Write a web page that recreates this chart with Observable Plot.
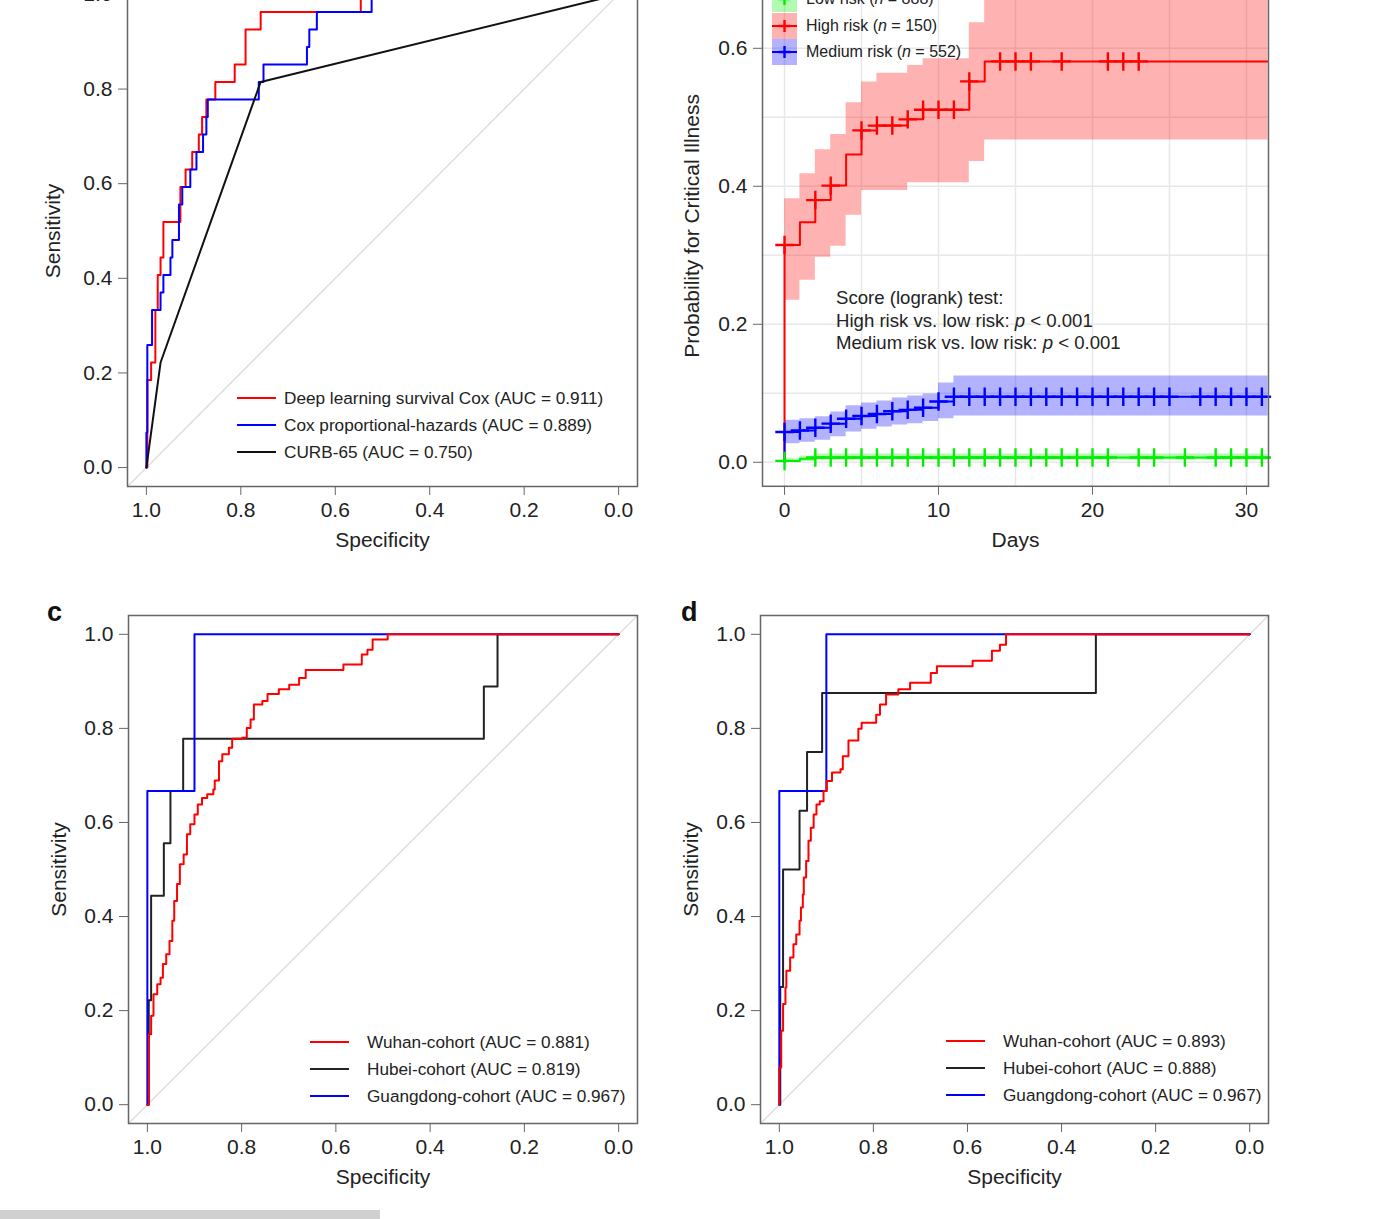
<!DOCTYPE html>
<html><head><meta charset="utf-8">
<script src="https://cdn.jsdelivr.net/npm/d3@7"></script>
<script src="https://cdn.jsdelivr.net/npm/@observablehq/plot@0.6"></script>
<style>
body{margin:0;background:#fff;}
#page{position:relative;width:1400px;height:1219px;overflow:hidden;background:#fff;font-family:"Liberation Sans",Arial,Helvetica,sans-serif;color:#222;}
.abs{position:absolute;white-space:nowrap;}
.lrow{position:absolute;left:0;display:flex;align-items:center;height:27px;font-size:17.2px;}
.lline{height:2px;}
.tag{position:absolute;font-weight:bold;font-size:27px;color:#111;}
</style></head>
<body><div id="page"></div>
<script>
// ---------------- Panel a: training ROC ----------------
const aRedSpec  = [1.0,0.998,0.990,0.981,0.976,0.970,0.964,0.928,0.917,0.903,0.889,0.882,0.873,0.854,0.813,0.790,0.758,0.546,0.0];
const aRedSens  = [0,0.185,0.222,0.333,0.407,0.444,0.519,0.593,0.630,0.667,0.704,0.741,0.778,0.815,0.852,0.926,0.963,1.0,1.0];
const aBlueSpec = [1.0,1.0,0.998,0.988,0.970,0.964,0.949,0.945,0.931,0.924,0.907,0.894,0.880,0.873,0.870,0.762,0.752,0.660,0.655,0.639,0.523,0.0];
const aBlueSens = [0,0.074,0.259,0.333,0.370,0.407,0.444,0.481,0.556,0.593,0.630,0.667,0.704,0.741,0.778,0.815,0.852,0.889,0.926,0.963,1.0,1.0];
const aBlackSpec = [1.0,0.970,0.758,0.0];
const aBlackSens = [0,0.222,0.815,1.0];
const aLegend = ["Deep learning survival Cox (AUC = 0.911)","Cox proportional-hazards (AUC = 0.889)","CURB-65 (AUC = 0.750)"];

// ---------------- Panel c: external ROC ----------------
const cRedSpec = [1.0,0.997,0.992,0.987,0.979,0.972,0.967,0.960,0.953,0.947,0.943,0.937,0.931,0.923,0.916,0.909,0.900,0.893,0.884,0.873,0.860,0.857,0.848,0.841,0.827,0.820,0.799,0.789,0.781,0.774,0.756,0.745,0.721,0.699,0.678,0.664,0.584,0.545,0.533,0.522,0.490,0.0];
const cRedSens = [0,0.150,0.189,0.235,0.256,0.270,0.299,0.320,0.348,0.391,0.433,0.469,0.511,0.532,0.575,0.596,0.617,0.638,0.652,0.660,0.670,0.689,0.730,0.745,0.759,0.778,0.780,0.801,0.819,0.851,0.858,0.873,0.883,0.893,0.907,0.924,0.936,0.957,0.967,0.989,1.0,1.0];
const cBlackSpec = [1.0,0.997,0.992,0.965,0.951,0.924,0.286,0.257,0.0];
const cBlackSens = [0,0.222,0.444,0.556,0.667,0.778,0.889,1.0,1.0];
const cBlueSpec = [1.0,1.0,0.900,0.0];
const cBlueSens = [0,0.667,1.0,1.0];
const cLegend = ["Wuhan-cohort (AUC = 0.881)","Hubei-cohort (AUC = 0.819)","Guangdong-cohort (AUC = 0.967)"];

// ---------------- Panel d: external ROC ----------------
const dRedSpec = [1.0,1.0,0.996,0.992,0.987,0.985,0.977,0.970,0.964,0.957,0.954,0.950,0.948,0.943,0.938,0.933,0.927,0.921,0.914,0.906,0.899,0.888,0.870,0.865,0.853,0.832,0.825,0.794,0.786,0.773,0.747,0.722,0.678,0.665,0.589,0.548,0.531,0.518,0.0];
const dRedSens = [0,0.079,0.157,0.214,0.249,0.285,0.313,0.341,0.362,0.391,0.419,0.447,0.483,0.518,0.561,0.589,0.617,0.638,0.645,0.667,0.688,0.706,0.713,0.741,0.774,0.799,0.812,0.829,0.851,0.872,0.883,0.897,0.918,0.932,0.944,0.965,0.978,1.0,1.0];
const dBlackSpec = [1.0,0.998,0.992,0.957,0.941,0.909,0.327,0.0];
const dBlackSens = [0,0.25,0.5,0.625,0.75,0.875,1.0,1.0];
const dBlueSpec = [1.0,1.0,0.900,0.0];
const dBlueSens = [0,0.667,1.0,1.0];
const dLegend = ["Wuhan-cohort (AUC = 0.893)","Hubei-cohort (AUC = 0.888)","Guangdong-cohort (AUC = 0.967)"];

const rocTicks = [1.0,0.8,0.6,0.4,0.2,0.0];
const sensTicks = [0.0,0.2,0.4,0.6,0.8,1.0];

// ---------------- Panel b: cumulative incidence ----------------
const highT  = [0,0,1,2,3,4,5,6,8,9,12,13,31.4];
const highP  = [0,0.315,0.348,0.380,0.401,0.446,0.481,0.488,0.497,0.511,0.552,0.581,0.581];
const highCiT  = [0,1,2,3,4,5,6,8,9,12,13,31.4];
const highCiLo = [0.235,0.264,0.297,0.313,0.358,0.394,0.394,0.405,0.405,0.436,0.467,0.467];
const highCiHi = [0.382,0.418,0.453,0.475,0.521,0.551,0.564,0.575,0.585,0.637,0.69,0.69];
const highCens = [0,2,3,5,6,7,8,9,10,11,12,14,15,16,18,21,22,23];

const medT  = [0,0,1,2,3,4,5,6,7,8,9,10,11,31.4];
const medP  = [0,0.044,0.046,0.050,0.056,0.063,0.067,0.070,0.074,0.076,0.079,0.088,0.095,0.095];
const medCiT  = [0,1,2,3,4,5,6,7,8,9,10,11,31.4];
const medCiLo = [0.027,0.029,0.032,0.037,0.044,0.048,0.051,0.054,0.056,0.059,0.063,0.067,0.067];
const medCiHi = [0.061,0.063,0.066,0.073,0.082,0.086,0.089,0.093,0.096,0.099,0.115,0.125,0.125];
const medCens = [0,1,2,3,4,5,6,7,8,9,10,11,12,13,14,15,16,17,18,19,20,21,22,23,24,25,27,28,29,30,31];

const lowT  = [0,0,1,2,31.4];
const lowP  = [0,0.002,0.005,0.007,0.007];
const lowCiT  = [0,1,2,31.4];
const lowCiLo = [0.0,0.001,0.003,0.003];
const lowCiHi = [0.005,0.009,0.012,0.012];
const lowCens = [0,2,3,4,5,6,7,8,9,10,11,12,13,14,15,16,17,18,19,20,21,23,24,26,28,29,30,31];

const dayTicks = [0,10,20,30];
const dayGrid = [0,5,10,15,20,25,30];
const probTicks = [0.0,0.2,0.4,0.6];
const probGrid = [0.0,0.1,0.2,0.3,0.4,0.5,0.6,0.7];
const bLegend = ["Low risk (<i>n</i> = 888)","High risk (<i>n</i> = 150)","Medium risk (<i>n</i> = 552)"];
const scoreText = ["Score (logrank) test:","High risk vs. low risk: <i>p</i> &lt; 0.001","Medium risk vs. low risk: <i>p</i> &lt; 0.001"];

// ---------------- helpers ----------------
const page = document.getElementById("page");
const FONT = "Liberation Sans, Arial, Helvetica, sans-serif";
const AX = 21;
const zip = (xs, ys, kx, ky) => xs.map((x, i) => ({[kx]: x, [ky]: ys[i]}));
const stepAt = (T, P, t) => { let v = P[0]; T.forEach((ti, i) => { if (ti <= t) v = P[i]; }); return v; };
const fmt1 = d3.format(".1f");

function place(opts, L, T, R, B) {
  const mL = 110, mR = 20, mT = 10, mB = 80;
  const svg = Plot.plot({
    ...opts,
    width: mL + (R - L) + mR, height: mT + (B - T) + mB,
    marginLeft: mL, marginRight: mR, marginTop: mT, marginBottom: mB,
    style: {fontFamily: FONT, color: "#222", background: "transparent", overflow: "visible"}
  });
  svg.style.position = "absolute";
  svg.style.left = (L - mL) + "px";
  svg.style.top = (T - mT) + "px";
  page.appendChild(svg);
}

function axisMarks(xt, yt, xfmt, xlab, ylab, ylabDx) {
  return [
    Plot.frame({stroke: "#666", strokeWidth: 1.5}),
    Plot.axisX({ticks: xt, tickFormat: xfmt, tickSize: 9, tickPadding: 7, fontSize: AX, stroke: "#666", fill: "#222", label: null}),
    Plot.axisY({ticks: yt, tickFormat: fmt1, tickSize: 9, tickPadding: 6, fontSize: AX, stroke: "#666", fill: "#222", label: null}),
    Plot.text([xlab], {frameAnchor: "bottom", dy: 54, fontSize: AX, fill: "#222", textAnchor: "middle", lineAnchor: "middle"}),
    Plot.text([ylab], {frameAnchor: "left", dx: ylabDx, rotate: -90, fontSize: AX, fill: "#222", textAnchor: "middle", lineAnchor: "middle"})
  ];
}

const xDom = [1.04, -0.04];
function roc(series, L, T, R, B, ylabDx) {
  const diag = xDom.map(x => ({spec: x, sens: 1 - x}));
  place({
    x: {domain: xDom}, y: {domain: [-0.04, 1.04]},
    marks: [
      Plot.line(diag, {x: "spec", y: "sens", stroke: "#dcdcdc", strokeWidth: 1.3}),
      ...series.map(s => Plot.line(zip(s.spec, s.sens, "spec", "sens"),
        {x: "spec", y: "sens", stroke: s.color, strokeWidth: 2, curve: s.curve || "step-after"})),
      ...axisMarks(rocTicks, sensTicks, fmt1, "Specificity", "Sensitivity", ylabDx)
    ]
  }, L, T, R, B);
}

function rocLegend(labels, colors, lineLeft, lineW, gap, firstCenter) {
  const box = document.createElement("div");
  box.className = "abs";
  box.style.left = lineLeft + "px";
  box.style.top = (firstCenter - 13.5) + "px";
  labels.forEach((lab, i) => {
    const r = document.createElement("div");
    r.className = "lrow";
    r.style.top = (i * 27) + "px";
    r.innerHTML = `<div class="lline" style="width:${lineW}px;background:${colors[i]};margin-right:${gap}px"></div><span>${lab}</span>`;
    box.appendChild(r);
  });
  page.appendChild(box);
}

// ---------------- panel a ----------------
roc([
  {spec: aRedSpec, sens: aRedSens, color: "#ff0000"},
  {spec: aBlueSpec, sens: aBlueSens, color: "#0000ff"},
  {spec: aBlackSpec, sens: aBlackSens, color: "#111", curve: "linear"}
], 127, -25, 637, 486, -74);
rocLegend(aLegend, ["#ff0000", "#0000ff", "#111"], 237, 39, 8, 398);

// ---------------- panel c ----------------
roc([
  {spec: cBlackSpec, sens: cBlackSens, color: "#222"},
  {spec: cBlueSpec, sens: cBlueSens, color: "#0000ff"},
  {spec: cRedSpec, sens: cRedSens, color: "#ff0000"}
], 128, 615, 637, 1123, -69);
rocLegend(cLegend, ["#ff0000", "#222", "#0000ff"], 310, 39, 18, 1042);

// ---------------- panel d ----------------
roc([
  {spec: dBlackSpec, sens: dBlackSens, color: "#222"},
  {spec: dBlueSpec, sens: dBlueSens, color: "#0000ff"},
  {spec: dRedSpec, sens: dRedSens, color: "#ff0000"}
], 760, 615, 1268, 1123, -69);
rocLegend(dLegend, ["#ff0000", "#222", "#0000ff"], 946, 39, 18, 1041);

// ---------------- panel b ----------------
const yTop = 0.72, yBot = -0.0348, pxPer = 690;
const groups = [
  {T: lowT, P: lowP, cT: lowCiT, lo: lowCiLo, hi: lowCiHi, cens: lowCens, color: "#00ee00"},
  {T: highT, P: highP, cT: highCiT, lo: highCiLo, hi: highCiHi, cens: highCens, color: "#ff0000"},
  {T: medT, P: medP, cT: medCiT, lo: medCiLo, hi: medCiHi, cens: medCens, color: "#0000ff"}
];
const bandOf = g => g.cT.map((t, i) => ({t, lo: g.lo[i], hi: g.hi[i]}));
const kmOf = g => zip(g.T, g.P, "t", "p");
const censOf = g => g.cens.map(t => ({t, p: stepAt(g.T, g.P, t)}));
const drawOrder = [groups[1], groups[2], groups[0]];
place({
  x: {domain: [-1.43, 31.43]}, y: {domain: [yBot, yTop]},
  marks: [
    Plot.gridX(dayGrid, {stroke: "#e8e8e8", strokeOpacity: 1, strokeWidth: 1.5}),
    Plot.gridY(probGrid, {stroke: "#e8e8e8", strokeOpacity: 1, strokeWidth: 1.5}),
    ...groups.map(g => Plot.areaY(bandOf(g), {x: "t", y1: "lo", y2: "hi", curve: "step-after", fill: g.color, fillOpacity: 0.3})),
    ...drawOrder.map(g => Plot.line(kmOf(g), {x: "t", y: "p", stroke: g.color, strokeWidth: 2, curve: "step-after"})),
    ...drawOrder.map(g => Plot.dot(censOf(g), {x: "t", y: "p", symbol: "plus", r: 6, stroke: g.color, strokeWidth: 2.4})),
    ...axisMarks(dayTicks, probTicks, d => String(d), "Days", "Probability for Critical Illness", -70)
  ]
}, 762, 486 - (yTop - yBot) * pxPer, 1268, 486);

// legend b
(function () {
  const box = document.createElement("div");
  box.className = "abs";
  box.style.left = "772px";
  box.style.top = "-14px";
  groups.forEach((g, i) => {
    const r = document.createElement("div");
    r.className = "abs";
    r.style.cssText += `left:0;top:${i * 26.5}px;height:26px;display:flex;align-items:center;font-size:16px;`;
    const sq = `<svg width="25" height="26" style="margin-right:9px"><rect width="25" height="26" fill="${g.color}" fill-opacity="0.3"/><line x1="0" x2="25" y1="13" y2="13" stroke="${g.color}" stroke-width="2"/><line x1="12.5" x2="12.5" y1="7" y2="19" stroke="${g.color}" stroke-width="2.4"/><line x1="6.5" x2="18.5" y1="13" y2="13" stroke="${g.color}" stroke-width="2.5"/></svg>`;
    r.innerHTML = sq + `<span>${bLegend[i]}</span>`;
    box.appendChild(r);
  });
  page.appendChild(box);
  const s = document.createElement("div");
  s.className = "abs";
  s.style.cssText += "left:836px;top:287px;font-size:18.6px;line-height:22.5px;";
  s.innerHTML = scoreText.join("<br>");
  page.appendChild(s);
})();

// panel tags
[["c", 47, 597], ["d", 681, 597]].forEach(([t, x, y]) => {
  const e = document.createElement("div");
  e.className = "tag"; e.textContent = t; e.style.left = x + "px"; e.style.top = y + "px";
  page.appendChild(e);
});
// bottom grey strip of the source screenshot
const strip = document.createElement("div");
strip.className = "abs";
strip.style.cssText += "left:0;top:1210px;width:380px;height:9px;background:#d0d0d0;";
page.appendChild(strip);
</script>
</body></html>
